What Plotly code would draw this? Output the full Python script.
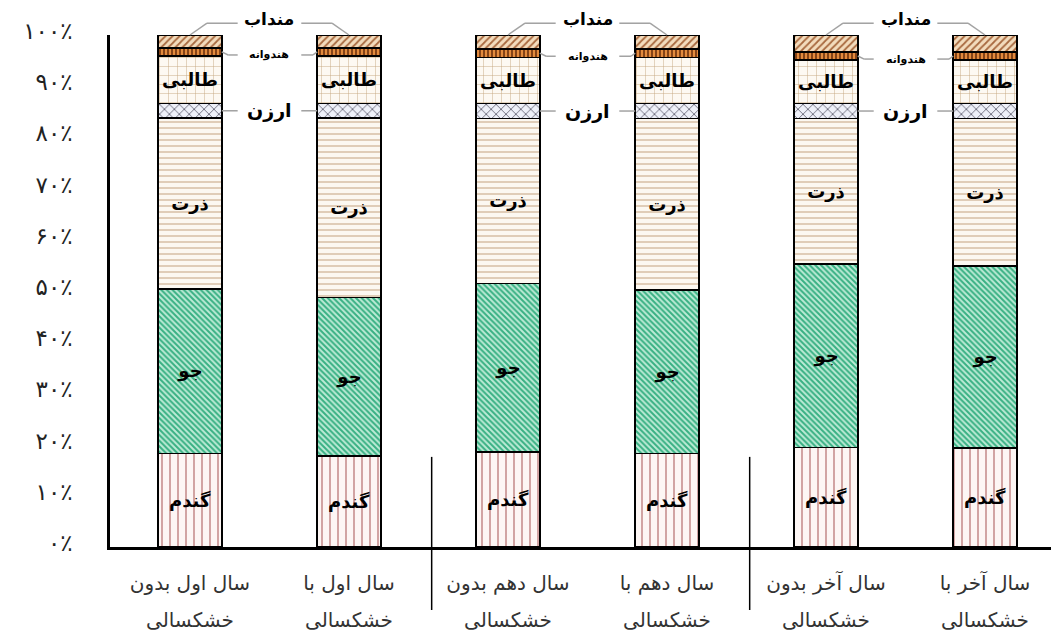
import plotly.graph_objects as go

# ---------------- data ----------------
categories = ["سال اول بدون", "سال اول با", "سال دهم بدون", "سال دهم با", "سال آخر بدون", "سال آخر با"]
category_line2 = ["خشکسالی", "خشکسالی", "خشکسالی", "خشکسالی", "خشکسالی", "خشکسالی"]
crop_names = ["گندم", "جو", "ذرت", "ارزن", "طالبی", "هندوانه", "منداب"]
gandom = [18.3, 17.8, 18.6, 18.3, 19.4, 19.3]
jo = [32.1, 30.9, 32.9, 31.9, 35.9, 35.6]
zorat = [33.4, 35.1, 32.2, 33.5, 28.4, 28.8]
arzan = [2.8, 2.8, 2.9, 2.9, 2.9, 2.9]
talebi = [9.3, 9.3, 9.0, 9.0, 8.5, 8.5]
hendevaneh = [1.6, 1.6, 1.7, 1.7, 1.6, 1.6]
mondab = [2.5, 2.5, 2.7, 2.7, 3.3, 3.3]
y_tick_vals = [0, 10, 20, 30, 40, 50, 60, 70, 80, 90, 100]
y_tick_text = ["۰٪", "۱۰٪", "۲۰٪", "۳۰٪", "۴۰٪", "۵۰٪", "۶۰٪", "۷۰٪", "۸۰٪", "۹۰٪", "۱۰۰٪"]

# ---------------- styling ----------------
FONT = "DejaVu Sans"
series = [gandom, jo, zorat, arzan, talebi, hendevaneh, mondab]
styles = [
    dict(shape="|", bg="#fdf6f4", fg="#9a3a3a", size=8, sol=0.11, label=True),
    dict(shape="\\", bg="#bdebd6", fg="#38b083", size=4, sol=0.5, label=True),
    dict(shape="-", bg="#fcf8f1", fg="#c8a888", size=6, sol=0.18, label=True),
    dict(shape="x", bg="#eef0f8", fg="#5a5a6a", size=7, sol=0.22, label=False),
    dict(shape="+", bg="#fdf9f2", fg="#c4a67e", size=9, sol=0.1, label=True),
    dict(shape="|", bg="#e38b3e", fg="#7a3b12", size=4, sol=0.45, label=False),
    dict(shape="/", bg="#f3dcbd", fg="#a8693f", size=5, sol=0.35, label=False),
]

x = list(range(len(categories)))
BAR_W = 0.40
X_RANGE = [-0.503, 5.415]

fig = go.Figure()
for name, vals, st in zip(crop_names, series, styles):
    fig.add_trace(go.Bar(
        x=x, y=vals, name=name, width=BAR_W,
        marker=dict(
            color=st["bg"],
            line=dict(color="black", width=1.6),
            pattern=dict(shape=st["shape"], bgcolor=st["bg"], fgcolor=st["fg"],
                         size=st["size"], solidity=st["sol"], fillmode="replace"),
        ),
        text=[name] * len(x) if st["label"] else None,
        textposition="inside" if st["label"] else "none",
        insidetextanchor="middle",
        textangle=0,
        textfont=dict(family=FONT, size=18, color="black", weight="bold"),
        hoverinfo="skip",
    ))

# cumulative positions (paper y == value/100 because y range is [0,100])
def cum_before(idx, bar):
    return sum(series[k][bar] for k in range(idx))

shapes = []
annotations = []
LINE = dict(color="#a3a3a3", width=1.5)

def seg(x0, y0, x1, y1):
    shapes.append(dict(type="line", xref="x", yref="paper", x0=x0, y0=y0, x1=x1, y1=y1, line=LINE))

for p in range(len(categories) // 2):
    i, j = 2 * p, 2 * p + 1
    c = i + 0.5
    # منداب
    ty = 1.023
    seg(i, 1.0, i + 0.107, ty); seg(i + 0.107, ty, i + 0.30, ty)
    seg(j - 0.30, ty, j - 0.107, ty); seg(j - 0.107, ty, j, 1.0)
    annotations.append(dict(x=c, y=ty, xref="x", yref="paper", text=crop_names[6], showarrow=False,
                            yanchor="middle", yshift=4,
                            font=dict(family=FONT, size=17, color="black", weight="bold")))
    # هندوانه
    hi = (cum_before(5, i) + hendevaneh[i] / 2) / 100
    hj = (cum_before(5, j) + hendevaneh[j] / 2) / 100
    hy = (hi + hj) / 2 - 0.006
    seg(i + BAR_W / 2, hi, i + 0.24, hy); seg(i + 0.24, hy, i + 0.30, hy)
    seg(j - 0.30, hy, j - 0.226, hy); seg(j - 0.226, hy, j - BAR_W / 2, hj)
    annotations.append(dict(x=c, y=hy, xref="x", yref="paper", text=crop_names[5], showarrow=False,
                            yanchor="middle", yshift=0,
                            font=dict(family=FONT, size=11, color="black", weight="bold")))
    # ارزن
    ai = (cum_before(3, i) + arzan[i] / 2) / 100
    aj = (cum_before(3, j) + arzan[j] / 2) / 100
    seg(i + BAR_W / 2, ai, i + 0.30, ai)
    seg(j - 0.30, aj, j - BAR_W / 2, aj)
    annotations.append(dict(x=c, y=(ai + aj) / 2, xref="x", yref="paper", text=crop_names[3], showarrow=False,
                            yanchor="middle", yshift=0,
                            font=dict(family=FONT, size=19, color="black", weight="bold")))

# group separators
for sx in [1.52, 3.52]:
    shapes.append(dict(type="line", xref="x", yref="paper", x0=sx, x1=sx, y0=0.176, y1=-0.123,
                       line=dict(color="black", width=1.5)))

# second line of category labels
for k, t in enumerate(category_line2):
    annotations.append(dict(x=k, y=-0.1426, xref="x", yref="paper", text=t, showarrow=False,
                            yanchor="middle", yshift=0, font=dict(family=FONT, size=20, color="#333333")))

fig.update_layout(
    barmode="stack",
    width=1051, height=632,
    margin=dict(l=110, r=0, t=35, b=85),
    paper_bgcolor="white", plot_bgcolor="white",
    showlegend=False,
    shapes=shapes,
    annotations=annotations,
    xaxis=dict(
        range=X_RANGE, tickvals=x, ticktext=categories,
        showgrid=False, zeroline=False, showline=True, linecolor="black", linewidth=2.5,
        ticks="", ticklabelstandoff=16,
        tickfont=dict(family=FONT, size=20, color="#333333"),
    ),
    yaxis=dict(
        range=[0, 100], tickvals=y_tick_vals, ticktext=y_tick_text,
        showgrid=False, zeroline=False, showline=True, linecolor="black", linewidth=2.5,
        ticks="", ticklabelstandoff=30, ticklabelshift=-4,
        tickfont=dict(family=FONT, size=23, color="#222222", weight="normal"),
    ),
)

fig.write_html("out.html", config={"displayModeBar": False},
               post_script="document.body.style.margin='0';document.body.style.padding='0';document.body.style.overflow='hidden';")
